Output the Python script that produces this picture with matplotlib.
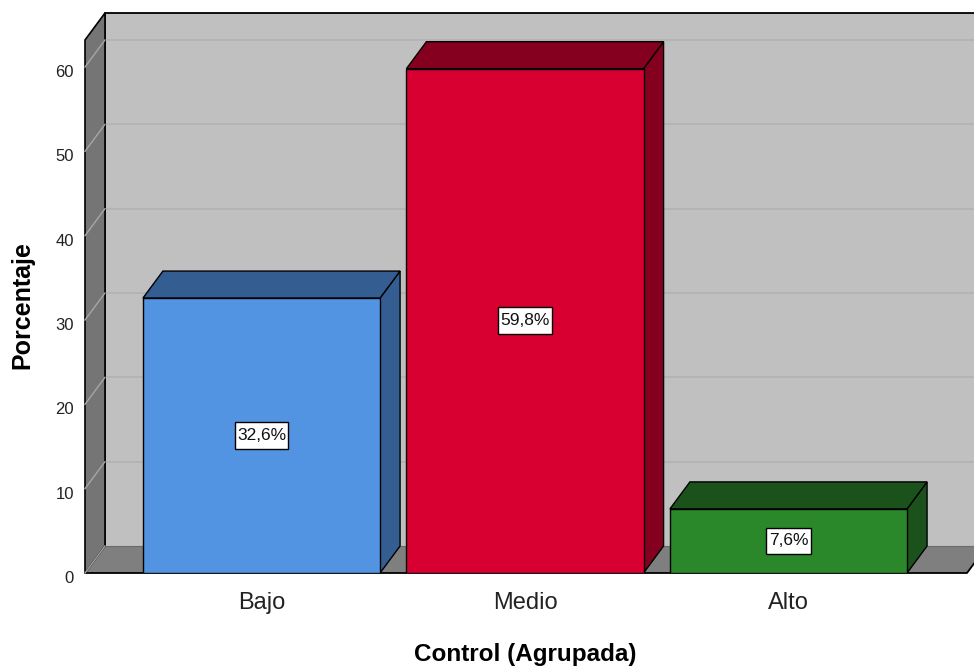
import matplotlib
matplotlib.use("Agg")
import matplotlib.pyplot as plt
from matplotlib.patches import Polygon, Rectangle
from matplotlib.transforms import ScaledTranslation

# Data
categories = ["Bajo", "Medio", "Alto"]
percentages = [32.6, 59.8, 7.6]
value_labels = ["32,6%", "59,8%", "7,6%"]
y_ticks = [0, 10, 20, 30, 40, 50, 60]

front_colors = ["#5294e2", "#d70030", "#2a882a"]
shade_colors = ["#345e92", "#85001f", "#1b521b"]

plt.rcParams["font.family"] = ["Liberation Sans", "DejaVu Sans"]

W, H = 974, 668
fig = plt.figure(figsize=(W / 100, H / 100), dpi=100)

# axes frame in pixels: front-left edge, floor front edge, back-wall top
left_px, right_px, base_px, top_px = 85, 974, 573, 13
ax = fig.add_axes([left_px / W, (H - base_px) / H,
                   (right_px - left_px) / W, (base_px - top_px) / H])

px_per_y = (573 - 67) / 60.0
px_per_x = 263.5
ymax = (base_px - top_px) / px_per_y
x0 = -(261.5 - left_px) / px_per_x
x1 = (right_px - 261.5) / px_per_x
ax.set_xlim(x0, x1)
ax.set_ylim(0, ymax)

# 3-D depth offsets (data units)
dx = 20 / px_per_x
dy = 27 / px_per_y
bar_w = 0.9
floor_right = (967 - 261.5) / px_per_x
wall_top = ymax - dy

# back wall
ax.add_patch(Rectangle((x0 + dx, dy), x1 - x0, ymax - dy,
                       facecolor="#c0c0c0", edgecolor="none", zorder=0))
for v in y_ticks[1:]:
    ax.plot([x0 + dx, x1], [v + dy, v + dy], color="#b2b2b2", lw=1.2, zorder=1)
ax.plot([x0 + dx, x1], [ymax, ymax], color="black", lw=1.3, zorder=2,
        clip_on=False)
ax.plot([x0 + dx, x0 + dx], [dy, ymax], color="black", lw=1.2, zorder=2)

# floor
ax.add_patch(Polygon([(x0, 0), (floor_right, 0), (floor_right + dx, dy),
                      (x0 + dx, dy)], closed=True, facecolor="#7f7f7f",
                     edgecolor="none", zorder=1))
ax.plot([x0 + dx, x1], [dy, dy], color="#6a6a6a", lw=0.8, zorder=1.5)
ax.plot([x0, floor_right, floor_right + dx], [0, 0, dy], color="black",
        lw=1.3, zorder=2, clip_on=False)

# left wall
ax.add_patch(Polygon([(x0, 0), (x0, wall_top), (x0 + dx, ymax), (x0 + dx, dy)],
                     closed=True, facecolor="#757575", edgecolor="black",
                     lw=1.2, zorder=2, clip_on=False))
for v in y_ticks:
    ax.plot([x0, x0 + dx], [v, v + dy], color="#a6a6a6", lw=1.0, zorder=2.5,
            clip_on=False)

# bars
for i, (val, fc, sc) in enumerate(zip(percentages, front_colors, shade_colors)):
    l, r = i - bar_w / 2, i + bar_w / 2
    z = 5 + i
    ax.add_patch(Polygon([(r, 0), (r, val), (r + dx, val + dy), (r + dx, dy)],
                         closed=True, facecolor=sc, edgecolor="black",
                         lw=1.0, zorder=z))
    ax.add_patch(Polygon([(l, val), (r, val), (r + dx, val + dy),
                          (l + dx, val + dy)], closed=True, facecolor=sc,
                         edgecolor="black", lw=1.0, zorder=z))
    ax.add_patch(Rectangle((l, 0), bar_w, val, facecolor=fc,
                           edgecolor="black", lw=1.0, zorder=z + 0.1))
    ax.text(i, val / 2, value_labels[i], ha="center", va="center",
            fontsize=12.5, color="#111111", zorder=z + 0.2,
            bbox=dict(boxstyle="square,pad=0.13", mutation_aspect=2.6,
                      facecolor="white", edgecolor="black", lw=1.0))

# axes decorations
for s in ax.spines.values():
    s.set_visible(False)
ax.set_yticks(y_ticks)
ax.set_yticklabels([str(t) for t in y_ticks], fontsize=12, color="#222222")
ax.set_xticks(range(len(categories)))
ax.set_xticklabels(categories, fontsize=17, color="#222222")
ax.tick_params(axis="y", length=0, pad=8)
ax.tick_params(axis="x", length=0, pad=14)
shift = ScaledTranslation(0, -4 / 100, fig.dpi_scale_trans)
for lab in ax.get_yticklabels():
    lab.set_transform(lab.get_transform() + shift)

ax.set_ylabel("Porcentaje", fontsize=18, fontweight="bold", va="center")
ax.yaxis.set_label_coords((22 - left_px) / (right_px - left_px), 0.5 + (305 - 293) / -560)
ax.set_xlabel("Control (Agrupada)", fontsize=17.5, fontweight="bold", va="center")
ax.xaxis.set_label_coords((525 - left_px) / (right_px - left_px),
                          (base_px - 655) / (base_px - top_px))

fig.savefig("out.png", dpi=100)
